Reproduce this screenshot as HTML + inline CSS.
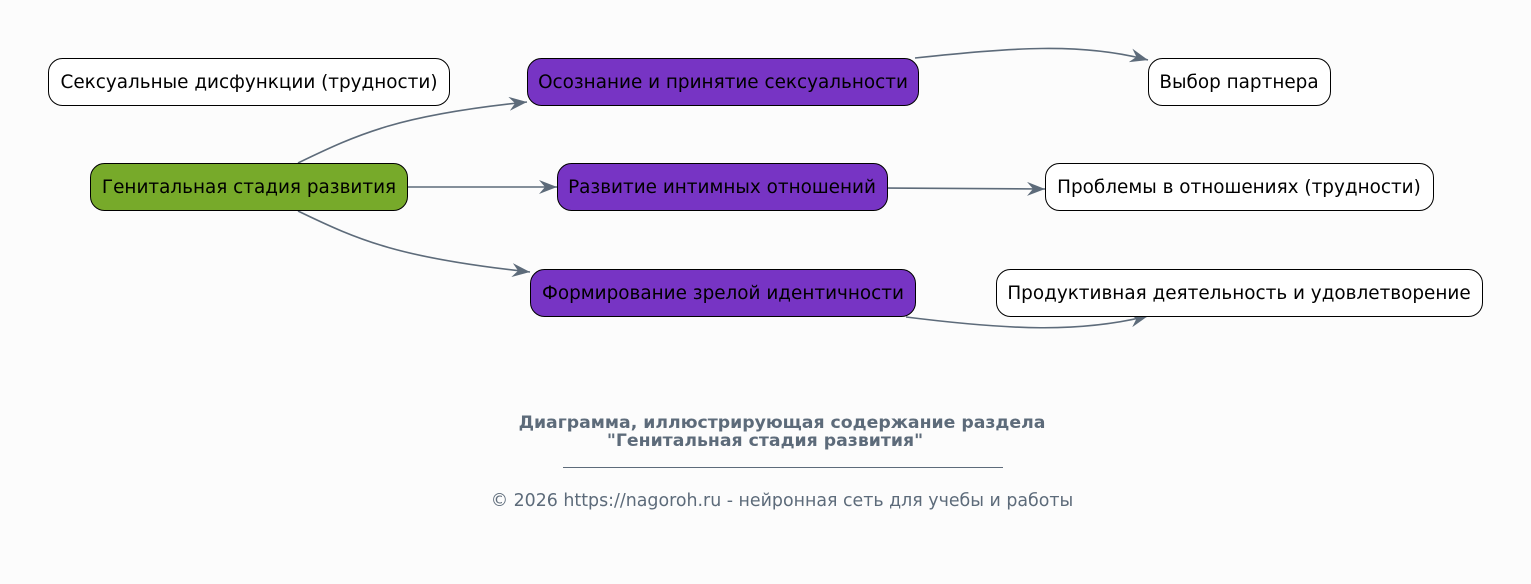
<!DOCTYPE html>
<html><head><meta charset="utf-8"><style>
html,body{margin:0;padding:0;background:#fcfcfc;}
svg{display:block;font-family:"DejaVu Sans","Liberation Sans",sans-serif;}
</style></head><body>
<svg width="1531" height="584" viewBox="0 0 1531 584" xmlns="http://www.w3.org/2000/svg">
<defs>
<marker id="a" markerWidth="20" markerHeight="14" refX="18" refY="7" orient="auto" markerUnits="userSpaceOnUse">
<path d="M0,0 L18,7 L0,14 L6,7 Z" fill="#5d6b7a"/>
</marker>
</defs>
<rect width="1531" height="584" fill="#fcfcfc"/>
<g fill="none" stroke="#5d6b7a" stroke-width="1.6">
<path d="M298,163 C360,133 400,115 527,102" marker-end="url(#a)"/>
<path d="M407,187 L557,187" marker-end="url(#a)"/>
<path d="M298,211 C360,241 400,258 530,272" marker-end="url(#a)"/>
<path d="M915,58 C1010,48 1080,42 1148,60" marker-end="url(#a)"/>
<path d="M887,188 L1045,189" marker-end="url(#a)"/>
<path d="M906,317 C1010,330 1080,333 1148,316" marker-end="url(#a)"/>
</g>
<g stroke="#000" stroke-width="1">
<rect x="48.5" y="58.5" width="401" height="47" rx="14" fill="#fff"/>
<rect x="90.5" y="163.5" width="317" height="47" rx="14" fill="#77aa2a"/>
<rect x="527.5" y="58.5" width="391" height="47" rx="14" fill="#7734c4"/>
<rect x="557.5" y="163.5" width="330" height="47" rx="14" fill="#7734c4"/>
<rect x="530.5" y="269.5" width="385" height="47" rx="14" fill="#7734c4"/>
<rect x="1148.5" y="58.5" width="182" height="47" rx="14" fill="#fff"/>
<rect x="1045.5" y="163.5" width="388" height="47" rx="14" fill="#fff"/>
<rect x="996.5" y="269.5" width="486" height="47" rx="14" fill="#fff"/>
</g>
<g font-size="18.4" text-anchor="middle" fill="#000">
<text x="249" y="88">Сексуальные дисфункции (трудности)</text>
<text x="249" y="193">Генитальная стадия развития</text>
<text x="723" y="88">Осознание и принятие сексуальности</text>
<text x="722" y="193">Развитие интимных отношений</text>
<text x="723" y="299">Формирование зрелой идентичности</text>
<text x="1239" y="88">Выбор партнера</text>
<text x="1239" y="193">Проблемы в отношениях (трудности)</text>
<text x="1239" y="299">Продуктивная деятельность и удовлетворение</text>
</g>
<g text-anchor="middle" fill="#5d6b7a">
<text x="782" y="428" font-size="17.3" font-weight="bold">Диаграмма, иллюстрирующая содержание раздела</text>
<text x="765" y="446" font-size="17.3" font-weight="bold">"Генитальная стадия развития"</text>
<text x="782" y="506" font-size="17.4">© 2026 https://nagoroh.ru - нейронная сеть для учебы и работы</text>
</g>
<line x1="563" y1="467.5" x2="1003" y2="467.5" stroke="#5d6b7a" stroke-width="1"/>
</svg>
</body></html>
